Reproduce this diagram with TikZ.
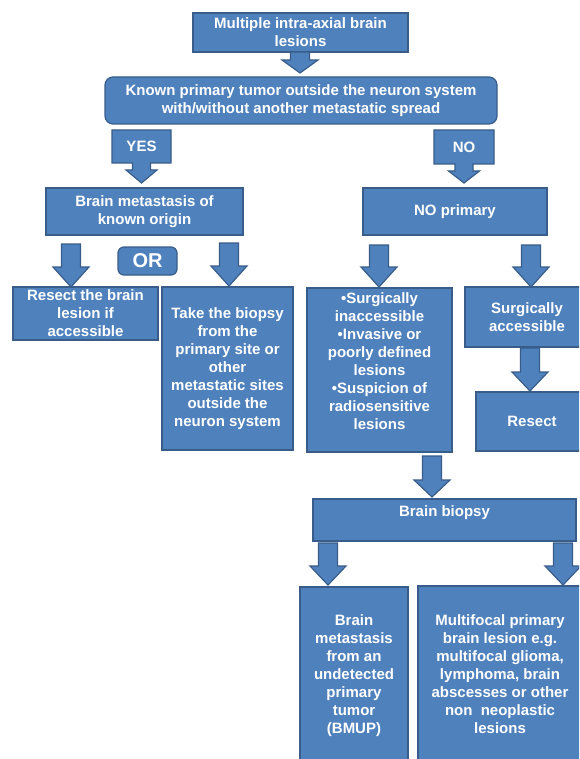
\documentclass[tikz,border=0pt]{standalone}
\usepackage{fontspec}
\setmainfont{Liberation Sans}
\usetikzlibrary{calc,backgrounds}
\definecolor{bfill}{HTML}{4F81BD}
\definecolor{bline}{HTML}{385D8A}
\tikzset{
  box/.style={draw=bline, fill=bfill, line width=1.2pt, text=white,
    font=\fontsize{15}{18}\selectfont\bfseries, align=center, inner sep=0pt, outer sep=0pt},
  txt/.style={text=white, font=\fontsize{15}{18}\selectfont\bfseries, align=center,
    inner sep=0pt, outer sep=0pt},
  arr/.style={draw=bline, fill=bfill, line width=1.2pt, line join=miter},
}
% block arrow: #1 x, #2 from node, #3 to node, #4 start gap, #5 end gap, #6 head length
\newcommand\barrow[6]{%
  \path[arr] let \p1=(#2.south), \p2=(#3.north) in
   (#1-9.5,\y1-#4) -- (#1+9.5,\y1-#4) -- (#1+9.5,\y2+#5+#6) -- (#1+18,\y2+#5+#6)
   -- (#1,\y2+#5) -- (#1-18,\y2+#5+#6) -- (#1-9.5,\y2+#5+#6) -- cycle;}
% down-arrow callout around a text node: #1 node, #2 target node, #3 end gap
\newcommand\callout[3]{%
  \path[arr] let \p1=(#1.north west), \p2=(#1.south east), \p3=(#1.south), \p4=(#2.north) in
   (\x1,\y1) -- (\x2,\y1) -- (\x2,\y2) -- (\x3+9,\y2) -- (\x3+9,\y2-7)
   -- (\x3+15.5,\y2-7) -- (\x3,\y4+#3) -- (\x3-15.5,\y2-7) -- (\x3-9,\y2-7)
   -- (\x3-9,\y2) -- (\x1,\y2) -- cycle;}
\begin{document}
\begin{tikzpicture}[x=1pt,y=1pt]
\useasboundingbox (0,0) rectangle (579,-759);
\begin{scope}[on background layer]
  \fill[white] (0,0) rectangle (579,-759);
\end{scope}
\clip (0,0) rectangle (579,-759);

\node[box, minimum width=215pt, minimum height=39pt] (top) at (300.5,-32.5)
  {Multiple intra-axial brain\\lesions};
\node[box, rounded corners=8pt, minimum width=392pt, minimum height=47pt] (known) at (301,-100.5)
  {Known primary tumor outside the neuron system\\with/without another metastatic spread};
\node[txt, minimum width=59pt, minimum height=33pt] (yes) at (141.5,-146.5) {YES};
\node[txt, minimum width=60pt, minimum height=34pt] (no) at (464,-147) {NO};
\node[box, minimum width=197pt, minimum height=47pt] (bmk) at (144.5,-211.5)
  {Brain metastasis of\\known origin};
\node[box, minimum width=184pt, minimum height=47pt] (nop) at (455,-211.5) {NO primary};
\node[box, rounded corners=6pt, minimum width=59pt, minimum height=28pt,
  font=\fontsize{20}{24}\selectfont\bfseries] (or) at (147.5,-261) {OR};
\node[box, minimum width=145pt, minimum height=53pt] (res1) at (85.5,-313.5)
  {Resect the brain\\lesion if\\accessible};
\node[box, minimum width=131pt, minimum height=163pt] (tb) at (227.5,-368.5)
  {Take the biopsy\\from the\\primary site or\\other\\metastatic sites\\outside the\\neuron system};
\node[box, minimum width=145pt, minimum height=164pt] (insp) at (379.5,-370) {};
\node[txt] (inspt) at (379.5,-361)
  {\textbullet Surgically\\inaccessible\\\textbullet Invasive or\\poorly defined\\lesions\\\textbullet Suspicion of\\radiosensitive\\lesions};
\node[box, minimum width=124pt, minimum height=60pt] (sacc) at (527,-317) {Surgically\\accessible};
\node[box, minimum width=112pt, minimum height=59pt] (res2) at (532,-421.5) {Resect};
\node[box, minimum width=263pt, minimum height=42pt] (bb) at (444.5,-520) {};
\node[txt] (bbt) at (444.5,-513) {Brain biopsy};
\node[box, minimum width=108pt, minimum height=178pt] (bmup) at (354,-676)
  {Brain\\metastasis\\from an\\undetected\\primary\\tumor\\(BMUP)};
\node[box, minimum width=164pt, minimum height=176pt] (multi) at (500,-674)
  {Multifocal primary\\brain lesion e.g.\\multifocal glioma,\\lymphoma, brain\\abscesses or other\\non\ \ neoplastic\\lesions};

\begin{scope}[on background layer]
  \callout{yes}{bmk}{5}
  \callout{no}{nop}{5}
\end{scope}

\barrow{300}{top}{known}{0}{4}{13}
\barrow{71}{bmk}{res1}{9}{0}{20}
\barrow{229}{bmk}{tb}{8}{1}{20}
\barrow{379}{nop}{insp}{10}{1}{20}
\barrow{531}{nop}{sacc}{10}{0}{20}
\barrow{530}{sacc}{res2}{1}{1}{19}
\barrow{432}{insp}{bb}{4}{2}{17}
\barrow{328}{bb}{bmup}{2}{2}{19}
\barrow{563}{bb}{multi}{2}{1}{19}
\end{tikzpicture}
\end{document}
